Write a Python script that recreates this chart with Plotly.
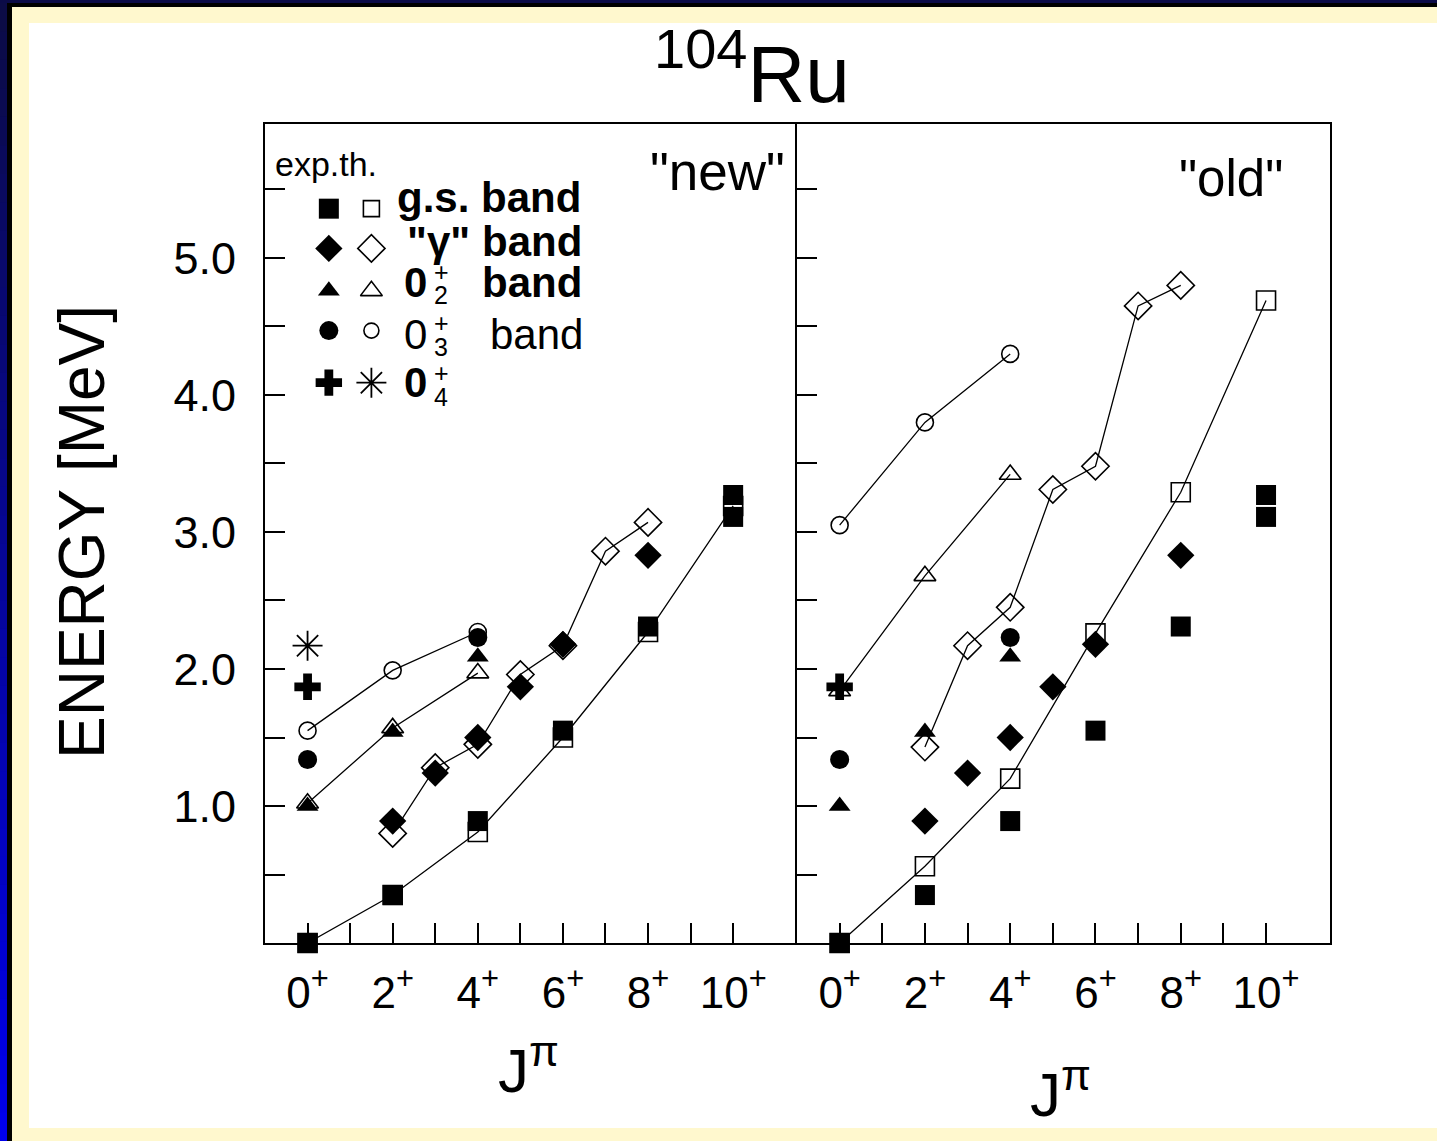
import plotly.graph_objects as go
from plotly.subplots import make_subplots

W, H = 1437, 1141

# ---------------- data ----------------
J_gs = [0, 2, 4, 6, 8, 10]
J_gam = [2, 3, 4, 5, 6, 7, 8]
J_02 = [0, 2, 4]
J_03 = [0, 2, 4]
J_04 = [0]

exp_gs_J = [0, 2, 4, 6, 8, 10, 10]
exp_gs_E = [0.00, 0.35, 0.89, 1.55, 2.31, 3.11, 3.27]
exp_gam_J = [2, 3, 4, 5, 6, 8]
exp_gam_E = [0.89, 1.24, 1.50, 1.87, 2.18, 2.83]
exp_02_J = [0, 2, 4]
exp_02_E = [1.00, 1.54, 2.09]
exp_03_J = [0, 4]
exp_03_E = [1.34, 2.23]
exp_04_J = [0]
exp_04_E = [1.87]

new_gs_E = [0.00, 0.35, 0.81, 1.50, 2.27, 3.19]
new_gam_E = [0.80, 1.28, 1.45, 1.96, 2.17, 2.86, 3.07]
new_02_E = [1.02, 1.57, 1.97]
new_03_E = [1.55, 1.99, 2.27]
new_04_E = [2.17]

old_gs_E = [0.00, 0.56, 1.20, 2.26, 3.29, 4.69]
old_gam_E = [1.43, 2.17, 2.45, 3.31, 3.48, 4.65, 4.80]
old_02_E = [1.84, 2.68, 3.42]
old_03_E = [3.05, 3.80, 4.30]

x_tickvals = [0, 2, 4, 6, 8, 10]
x_ticktext = ["0<sup>+</sup>", "2<sup>+</sup>", "4<sup>+</sup>",
              "6<sup>+</sup>", "8<sup>+</sup>", "10<sup>+</sup>"]
x_minorvals = [1, 3, 5, 7, 9]
y_tickvals = [1.0, 2.0, 3.0, 4.0, 5.0]
y_ticktext = ["1.0", "2.0", "3.0", "4.0", "5.0"]
y_minorvals = [0.5, 1.5, 2.5, 3.5, 4.5, 5.5]

# ---------------- styles ----------------
FONT = "Liberation Sans, Arial, sans-serif"
LINE = dict(color="black", width=1.3)
M_SQ_F = dict(symbol="square", size=20, color="black")
M_SQ_O = dict(symbol="square-open", size=19, color="black", line=dict(width=1.6, color="black"))
M_DI_F = dict(symbol="diamond", size=21, color="black")
M_DI_O = dict(symbol="diamond-open", size=21, color="black", line=dict(width=1.6, color="black"))
M_TR_F = dict(symbol="triangle-up", size=19, color="black")
M_TR_O = dict(symbol="triangle-up-open", size=19, color="black", line=dict(width=1.6, color="black"))
M_CI_F = dict(symbol="circle", size=19, color="black")
M_CI_O = dict(symbol="circle-open", size=17, color="black", line=dict(width=1.6, color="black"))
M_PL_F = dict(symbol="cross", size=22, color="black", line=dict(width=0))
M_ST_O = dict(symbol="asterisk-open", size=25, color="black", line=dict(width=1.8, color="black"))

fig = make_subplots(rows=1, cols=2, shared_yaxes=False, horizontal_spacing=0)


def theory(x, y, marker, col):
    fig.add_trace(go.Scatter(x=x, y=y, mode="lines+markers", line=LINE, marker=marker,
                             cliponaxis=False, showlegend=False, hoverinfo="x+y"), row=1, col=col)


def theory_pts(x, y, marker, col):
    fig.add_trace(go.Scatter(x=x, y=y, mode="markers", marker=marker,
                             cliponaxis=False, showlegend=False), row=1, col=col)


def exp(x, y, marker, col):
    fig.add_trace(go.Scatter(x=x, y=y, mode="markers", marker=marker,
                             cliponaxis=False, showlegend=False), row=1, col=col)


# "new" panel
theory(J_gs, new_gs_E, M_SQ_O, 1)
theory(J_gam, new_gam_E, M_DI_O, 1)
theory(J_02, new_02_E, M_TR_O, 1)
theory(J_03, new_03_E, M_CI_O, 1)
theory_pts(J_04, new_04_E, M_ST_O, 1)
# "old" panel
theory(J_gs, old_gs_E, M_SQ_O, 2)
theory(J_gam, old_gam_E, M_DI_O, 2)
theory(J_02, old_02_E, M_TR_O, 2)
theory(J_03, old_03_E, M_CI_O, 2)

for c in (1, 2):
    exp(exp_gs_J, exp_gs_E, M_SQ_F, c)
    exp(exp_gam_J, exp_gam_E, M_DI_F, c)
    exp(exp_02_J, exp_02_E, M_TR_F, c)
    exp(exp_03_J, exp_03_E, M_CI_F, c)
    exp(exp_04_J, exp_04_E, M_PL_F, c)

# legend symbols (drawn in the "new" panel)
LEG_X_EXP, LEG_X_TH = 0.5, 1.5
LEG_Y = [5.36, 5.07, 4.76, 4.47, 4.09]
leg_pairs = [(M_SQ_F, dict(M_SQ_O, size=16)), (M_DI_F, M_DI_O), (M_TR_F, M_TR_O),
             (M_CI_F, dict(M_CI_O, size=15)), (M_PL_F, M_ST_O)]
for (mf, mo), yy in zip(leg_pairs, LEG_Y):
    exp([LEG_X_EXP], [yy], mf, 1)
    theory_pts([LEG_X_TH], [yy], mo, 1)

# ---------------- axes ----------------
X_RANGE = [-1.0, 11.5]
Y_RANGE = [0, 5.978]
ydom = [1 - 943 / H, 1 - 124 / H]
axis_common = dict(showgrid=False, zeroline=False, showline=True, linecolor="black",
                   linewidth=2, mirror=True, ticks="inside", ticklen=20, tickwidth=2,
                   tickcolor="black")
fig.update_xaxes(axis_common, range=X_RANGE, tickmode="array", tickvals=x_tickvals,
                 ticktext=x_ticktext, tickfont=dict(family=FONT, size=44, color="black"),
                 ticklabelstandoff=10,
                 minor=dict(tickvals=x_minorvals, ticks="inside", ticklen=20, tickwidth=2,
                            tickcolor="black", showgrid=False))
fig.update_yaxes(axis_common, range=Y_RANGE, tickmode="array", tickvals=y_tickvals,
                 ticktext=y_ticktext, tickfont=dict(family=FONT, size=45, color="black"),
                 ticklabelstandoff=18,
                 minor=dict(tickvals=y_minorvals, ticks="inside", ticklen=20, tickwidth=2,
                            tickcolor="black", showgrid=False))
fig.update_layout(
    xaxis=dict(domain=[265 / W, 797 / W]),
    xaxis2=dict(domain=[797 / W, 1330 / W]),
    yaxis=dict(domain=ydom, mirror=False),
    yaxis2=dict(domain=ydom, showticklabels=False),
)

# ---------------- frame ----------------
def px(x):
    return x / W


def py(y):
    return 1 - y / H


shapes = []


def rect(x0, y0, x1, y1, color):
    shapes.append(dict(type="rect", xref="paper", yref="paper", x0=px(x0), x1=px(x1),
                       y0=py(y1), y1=py(y0), fillcolor=color, line=dict(width=0), layer="below"))


CREAM = "#FFF8CE"
rect(0, 0, W, 3, "#0B0B48")
rect(7, 3, W, 7, "#000000")
rect(7, 3, 12, H, "#000000")
n = 40
for i in range(n):
    t = i / (n - 1)
    r = int(12 * (1 - t))
    g = int(12 * (1 - t))
    b = int(70 + (235 - 70) * t)
    rect(0, 3 + (H - 3) * i / n, 7, 3 + (H - 3) * (i + 1) / n + 1, f"rgb({r},{g},{b})")
rect(12, 7, W, 23, CREAM)
rect(12, 7, 29, H, CREAM)
rect(12, 1128, W, H, CREAM)

# ---------------- text ----------------
ann = []


def text(x, y, s, size, xanchor="left", yanchor="middle", bold=False, textangle=0):
    ann.append(dict(xref="paper", yref="paper", x=px(x), y=py(y), text=(f"<b>{s}</b>" if bold else s),
                    showarrow=False, xanchor=xanchor, yanchor=yanchor, textangle=textangle,
                    font=dict(family=FONT, size=size, color="black")))


text(752, 68, "<sup>104</sup>Ru", 80, xanchor="center")
text(82, 532, "ENERGY [MeV]", 64, xanchor="center", textangle=-90)
text(528, 1066, "J<sup>π</sup>", 62, xanchor="center")
text(1060, 1090, "J<sup>π</sup>", 62, xanchor="center")
text(787, 172, '"new"', 53, xanchor="right")
text(1285, 178, '"old"', 51, xanchor="right")

text(273, 164, "exp.th.", 34)
text(395, 197, "g.s. band", 42, bold=True)
text(405, 241, '"γ"', 42, bold=True)
text(480, 241, "band", 42, bold=True)
text(402, 283, "0", 42, bold=True)
text(441, 272, "+", 25, xanchor="center")
text(441, 295, "2", 25, xanchor="center")
text(480, 283, "band", 42, bold=True)
text(402, 334, "0", 42)
text(441, 323, "+", 25, xanchor="center")
text(441, 347, "3", 25, xanchor="center")
text(488, 334, "band", 42)
text(402, 383, "0", 42, bold=True)
text(441, 373, "+", 25, xanchor="center")
text(441, 397, "4", 25, xanchor="center")

fig.update_layout(width=W, height=H, margin=dict(l=0, r=0, t=0, b=0),
                  paper_bgcolor="white", plot_bgcolor="white", showlegend=False,
                  shapes=shapes, annotations=ann)

fig.write_html("out.html")
